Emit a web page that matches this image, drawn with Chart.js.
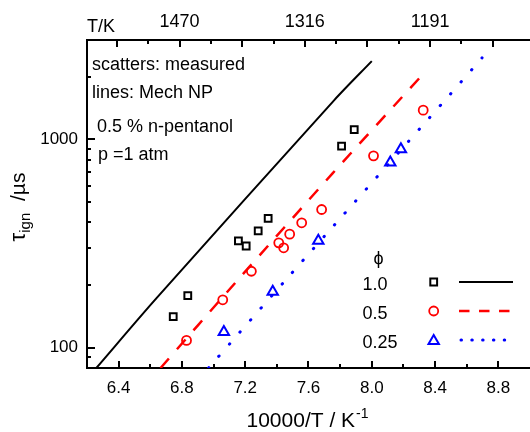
<!DOCTYPE html>
<html><head><meta charset="utf-8">
<script src="https://cdn.jsdelivr.net/npm/chart.js@4.4.0/dist/chart.umd.min.js"></script>
<style>html,body{margin:0;padding:0;background:#fff}#wrap{width:530px;height:432px}</style>
</head><body><div id="wrap"><canvas id="c" width="530" height="432"></canvas></div>
<script>
// ---- data ----
const xTicksMajor = [6.4, 6.8, 7.2, 7.6, 8.0, 8.4, 8.8];
const xTicksMinor = [6.6, 7.0, 7.4, 7.8, 8.2, 8.6];
const topTickValues = [6.8, 7.6, 8.4];
const topTickLabels = ['1470', '1316', '1191'];
const topTicksMajor = [6.4, 6.8, 7.2, 7.6, 8.0, 8.4, 8.8];
const topTicksMinor = [6.6, 7.0, 7.4, 7.8, 8.2, 8.6];
const yTicksMajor = [100, 1000];
const yTicksMinor = [90, 200, 300, 400, 500, 600, 700, 800, 900, 2000];

const phiLabels = ['1.0', '0.5', '0.25'];

// measured (scatters)
const meas10X = [6.745, 6.837, 7.157, 7.206, 7.282, 7.345, 7.809, 7.889];
const meas10Y = [141, 178, 326, 308, 364, 418, 929, 1115];
const meas05X = [6.829, 7.058, 7.239, 7.412, 7.443, 7.481, 7.557, 7.683, 8.011, 8.325];
const meas05Y = [108.5, 170, 233, 319, 302, 351, 398, 461, 834, 1382];
const meas025X = [7.065, 7.374, 7.662, 8.117, 8.184];
const meas025Y = [119, 186, 326, 774, 896];

// Mech NP (lines)
const sim10X = [6.259, 6.638, 7.763, 8.0];
const sim10Y = [80, 172.6, 1544, 2375];
const sim05X = [6.665, 7.143, 7.752, 8.337];
const sim05Y = [80, 207.5, 687, 2110];
const sim025X = [6.968, 7.468, 8.495, 8.697];
const sim025Y = [80, 216.7, 1644, 2464];

const pts = (xs, ys) => xs.map((x, i) => ({x: x, y: ys[i]}));
const FONT = 'Liberation Sans, Arial, sans-serif';

const ds = [
  {label: 'meas 1.0', data: pts(meas10X, meas10Y), showLine: false, pointStyle: 'rect', pointRadius: 4.8,
   pointBorderColor: '#000', pointBackgroundColor: 'rgba(0,0,0,0)', pointBorderWidth: 2},
  {label: 'meas 0.5', data: pts(meas05X, meas05Y), showLine: false, pointStyle: 'circle', pointRadius: 4.5,
   pointBorderColor: '#ff0000', pointBackgroundColor: 'rgba(0,0,0,0)', pointBorderWidth: 1.8},
  {label: 'meas 0.25', data: pts(meas025X, meas025Y), showLine: false, pointStyle: 'triangle', pointRadius: 6,
   pointBorderColor: '#0000ff', pointBackgroundColor: 'rgba(0,0,0,0)', pointBorderWidth: 2},
  {label: 'sim 1.0', data: pts(sim10X, sim10Y), showLine: true, pointRadius: 0, borderColor: '#000', borderWidth: 2, tension: 0.3},
  {label: 'sim 0.5', data: pts(sim05X, sim05Y), showLine: true, pointRadius: 0, borderColor: '#ff0000', borderWidth: 2.5,
   borderDash: [13, 12], tension: 0.3},
  {label: 'sim 0.25', data: pts(sim025X, sim025Y), showLine: true, pointRadius: 0, borderColor: '#0000ff', borderWidth: 3,
   borderDash: [0.5, 15.4], borderCapStyle: 'round', tension: 0.3}
];

const deco = {
  id: 'deco',
  afterDraw(chart) {
    const ctx = chart.ctx, a = chart.chartArea;
    const sx = chart.scales.x, sx2 = chart.scales.x2, sy = chart.scales.y;
    ctx.save();
    ctx.strokeStyle = '#000'; ctx.lineWidth = 2; ctx.setLineDash([]);
    const tick = (x1, y1, x2, y2) => { ctx.beginPath(); ctx.moveTo(x1, y1); ctx.lineTo(x2, y2); ctx.stroke(); };
    xTicksMajor.forEach(v => { const p = Math.round(sx.getPixelForValue(v)); tick(p, a.bottom, p, a.bottom - 7); });
    xTicksMinor.forEach(v => { const p = Math.round(sx.getPixelForValue(v)); tick(p, a.bottom, p, a.bottom - 4); });
    topTicksMajor.forEach(v => { const p = Math.round(sx2.getPixelForValue(v)); tick(p, a.top, p, a.top + 7); });
    topTicksMinor.forEach(v => { const p = Math.round(sx2.getPixelForValue(v)); tick(p, a.top, p, a.top + 4); });
    yTicksMajor.forEach(v => { const p = Math.round(sy.getPixelForValue(v)); tick(a.left, p, a.left + 8, p); });
    yTicksMinor.forEach(v => { const p = Math.round(sy.getPixelForValue(v)); tick(a.left, p, a.left + 4, p); });

    ctx.fillStyle = '#000';
    ctx.textBaseline = 'alphabetic';
    ctx.textAlign = 'left';
    ctx.font = '18px ' + FONT;
    ctx.fillText('T/K', 87, 32);
    ctx.fillText('scatters: measured', 92, 70);
    ctx.fillText('lines: Mech NP', 92, 98);
    ctx.fillText('0.5 % n-pentanol', 97, 132);
    ctx.fillText('p =1 atm', 98, 160);

    // legend
    ctx.textAlign = 'center';
    ctx.fillText('\u03d5', 378.5, 264);
    ctx.textAlign = 'left';
    const rows = [282, 311, 340];
    rows.forEach((ry, i) => { ctx.fillText(phiLabels[i], 362.5, ry + 7.5); });
    const H = Chart.helpers;
    ctx.fillStyle = 'rgba(0,0,0,0)';
    ctx.lineWidth = 2; ctx.strokeStyle = '#000';
    H.drawPoint(ctx, {pointStyle: 'rect', radius: 4.8, borderWidth: 2}, 433.7, rows[0]);
    ctx.strokeStyle = '#ff0000'; ctx.lineWidth = 1.8;
    H.drawPoint(ctx, {pointStyle: 'circle', radius: 4.5, borderWidth: 1.8}, 433.7, rows[1]);
    ctx.strokeStyle = '#0000ff'; ctx.lineWidth = 2;
    H.drawPoint(ctx, {pointStyle: 'triangle', radius: 6, borderWidth: 2}, 433.7, rows[2] + 1);
    ctx.fillStyle = '#000';
    ctx.lineWidth = 2; ctx.strokeStyle = '#000'; ctx.setLineDash([]);
    tick(459, rows[0], 513, rows[0]);
    ctx.lineWidth = 2.5; ctx.strokeStyle = '#ff0000'; ctx.setLineDash([10.5, 9.5]);
    tick(459, rows[1], 511, rows[1]);
    ctx.lineWidth = 3; ctx.strokeStyle = '#0000ff'; ctx.lineCap = 'round'; ctx.setLineDash([0.5, 10.3]);
    tick(461, rows[2], 505, rows[2]);
    ctx.setLineDash([]); ctx.lineCap = 'butt';

    // x title
    const t1 = '10000/T / K';
    ctx.font = '21px ' + FONT; const w1 = ctx.measureText(t1).width;
    ctx.font = '14px ' + FONT; const w2 = ctx.measureText('-1').width;
    const x0 = 307 - (w1 + w2) / 2;
    ctx.font = '21px ' + FONT; ctx.fillText(t1, x0, 427);
    ctx.font = '14px ' + FONT; ctx.fillText('-1', x0 + w1 + 1, 418);

    // y title (rotated)
    ctx.save();
    ctx.translate(25, 207);
    ctx.rotate(-Math.PI / 2);
    ctx.font = '22px ' + FONT; const a1 = ctx.measureText('\u03c4').width;
    ctx.font = '21px ' + FONT; const a3 = ctx.measureText('  /\u00b5s').width;
    ctx.font = '15px ' + FONT; const a2 = ctx.measureText('ign').width;
    let xx = -(a1 + a2 + a3) / 2;
    ctx.font = '22px ' + FONT; ctx.fillText('\u03c4', xx, 0); xx += a1;
    ctx.font = '15px ' + FONT; ctx.fillText('ign', xx, 5); xx += a2;
    ctx.font = '21px ' + FONT; ctx.fillText('  /\u00b5s', xx, 0);
    ctx.restore();
    ctx.restore();
  }
};

const noPad = s => { s.paddingLeft = 0; s.paddingRight = 0; s.paddingTop = 0; s.paddingBottom = 0; };

new Chart(document.getElementById('c'), {
  type: 'scatter',
  data: {datasets: ds},
  options: {
    responsive: false, animation: false, devicePixelRatio: 1,
    layout: {padding: 0, autoPadding: false},
    plugins: {legend: {display: false}, tooltip: {enabled: false}},
    scales: {
      x: {
        type: 'linear', position: 'bottom', min: 6.2, max: 9.0,
        afterBuildTicks: s => { s.ticks = xTicksMajor.map(v => ({value: v})); },
        afterFit: s => { s.height = 64; noPad(s); },
        ticks: {color: '#000', font: {family: FONT, size: 17}, padding: 10, maxRotation: 0,
                callback: v => Number(v).toFixed(1)},
        grid: {display: true, drawOnChartArea: false, drawTicks: false},
        border: {display: true, color: '#000', width: 2}
      },
      x2: {
        type: 'linear', axis: 'x', position: 'top', min: 6.2085, max: 9.038,
        afterBuildTicks: s => { s.ticks = topTickValues.map(v => ({value: v})); },
        afterFit: s => { s.height = 40; noPad(s); },
        ticks: {color: '#000', font: {family: FONT, size: 18}, padding: 7, maxRotation: 0,
                callback: v => { const i = topTickValues.findIndex(t => Math.abs(t - v) < 1e-6); return i >= 0 ? topTickLabels[i] : ''; }},
        grid: {display: true, drawOnChartArea: false, drawTicks: false},
        border: {display: true, color: '#000', width: 2}
      },
      y: {
        type: 'logarithmic', position: 'left', min: 80, max: 3000,
        afterBuildTicks: s => { s.ticks = yTicksMajor.map(v => ({value: v})); },
        afterFit: s => { s.width = 87; noPad(s); },
        ticks: {color: '#000', font: {family: FONT, size: 17}, padding: 9, callback: v => String(v)},
        grid: {display: true, drawOnChartArea: false, drawTicks: false},
        border: {display: true, color: '#000', width: 2}
      }
    }
  },
  plugins: [deco]
});
</script></body></html>
